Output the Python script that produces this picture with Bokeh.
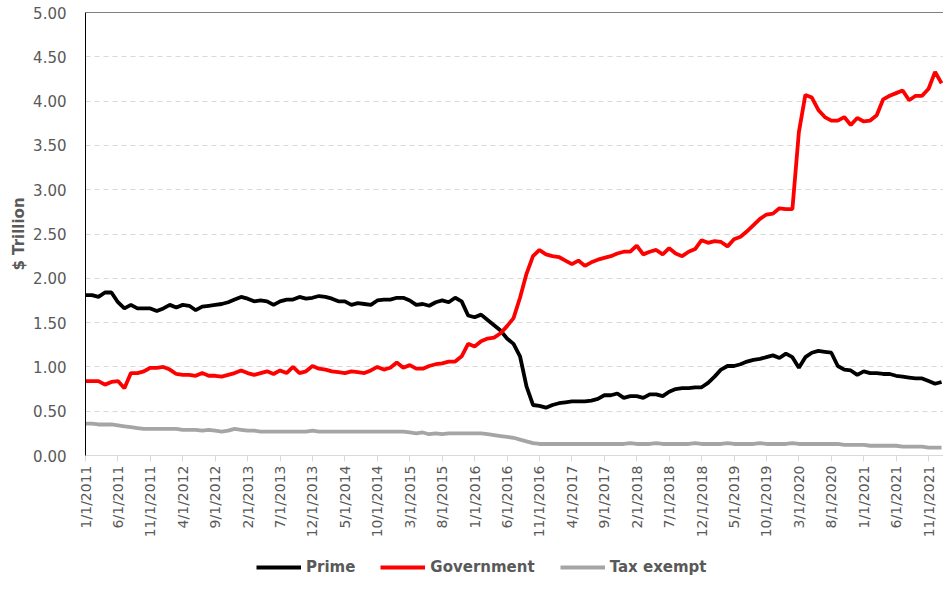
from bokeh.plotting import figure
from bokeh.models import (Range1d, FixedTicker, NumeralTickFormatter, Span,
                          Legend, LegendItem, ColumnDataSource)
from bokeh.layouts import column
from bokeh.embed import file_html
from bokeh.resources import INLINE
import math

# ---- data (monthly, 1/1/2011 .. 1/1/2022), $ trillion ----
dates = [f"{(i % 12) + 1}/1/{2011 + i // 12}" for i in range(133)]

prime = [1.81, 1.81, 1.79, 1.84, 1.84, 1.73, 1.66, 1.70, 1.66, 1.66,
         1.66, 1.63, 1.66, 1.70, 1.67, 1.70, 1.69, 1.64, 1.68, 1.69,
         1.70, 1.71, 1.73, 1.76, 1.79, 1.77, 1.74, 1.75, 1.74, 1.70,
         1.74, 1.76, 1.76, 1.79, 1.77, 1.78, 1.80, 1.79, 1.77, 1.74,
         1.74, 1.70, 1.72, 1.71, 1.70, 1.75, 1.76, 1.76, 1.78, 1.78,
         1.75, 1.70, 1.71, 1.69, 1.73, 1.75, 1.73, 1.78, 1.74, 1.58,
         1.56, 1.59, 1.53, 1.47, 1.41, 1.32, 1.26, 1.12, 0.78, 0.57,
         0.56, 0.54, 0.57, 0.59, 0.60, 0.61, 0.61, 0.61, 0.62, 0.64,
         0.68, 0.68, 0.70, 0.65, 0.67, 0.67, 0.65, 0.69, 0.69, 0.67,
         0.72, 0.75, 0.76, 0.76, 0.77, 0.77, 0.82, 0.89, 0.97, 1.01,
         1.01, 1.03, 1.06, 1.08, 1.09, 1.11, 1.13, 1.10, 1.15, 1.11,
         0.99, 1.11, 1.16, 1.18, 1.17, 1.16, 1.01, 0.97, 0.96, 0.91,
         0.95, 0.93, 0.93, 0.92, 0.92, 0.90, 0.89, 0.88, 0.87, 0.87,
         0.84, 0.81, 0.83]

government = [0.84, 0.84, 0.84, 0.80, 0.83, 0.84, 0.76, 0.93, 0.93, 0.95,
              0.99, 0.99, 1.00, 0.97, 0.92, 0.91, 0.91, 0.90, 0.93, 0.90,
              0.90, 0.89, 0.91, 0.93, 0.96, 0.93, 0.91, 0.93, 0.95, 0.92,
              0.96, 0.93, 1.00, 0.93, 0.95, 1.01, 0.98, 0.97, 0.95, 0.94,
              0.93, 0.95, 0.94, 0.93, 0.96, 1.00, 0.97, 0.99, 1.05, 0.99,
              1.02, 0.98, 0.98, 1.01, 1.03, 1.04, 1.06, 1.06, 1.12, 1.26,
              1.23, 1.29, 1.32, 1.33, 1.38, 1.46, 1.55, 1.78, 2.05, 2.25,
              2.32, 2.27, 2.25, 2.24, 2.20, 2.16, 2.20, 2.14, 2.18, 2.21,
              2.23, 2.25, 2.28, 2.30, 2.30, 2.37, 2.27, 2.30, 2.32, 2.27,
              2.34, 2.28, 2.25, 2.30, 2.33, 2.43, 2.40, 2.42, 2.41, 2.36,
              2.44, 2.47, 2.53, 2.60, 2.67, 2.72, 2.73, 2.79, 2.78, 2.78,
              3.65, 4.07, 4.04, 3.90, 3.82, 3.78, 3.78, 3.82, 3.73, 3.81,
              3.77, 3.78, 3.84, 4.02, 4.06, 4.09, 4.12, 4.01, 4.06, 4.06,
              4.14, 4.33, 4.20]

tax_exempt = [0.36, 0.36, 0.35, 0.35, 0.35, 0.34, 0.33, 0.32, 0.31, 0.30,
              0.30, 0.30, 0.30, 0.30, 0.30, 0.29, 0.29, 0.29, 0.28, 0.29,
              0.28, 0.27, 0.28, 0.30, 0.29, 0.28, 0.28, 0.27, 0.27, 0.27,
              0.27, 0.27, 0.27, 0.27, 0.27, 0.28, 0.27, 0.27, 0.27, 0.27,
              0.27, 0.27, 0.27, 0.27, 0.27, 0.27, 0.27, 0.27, 0.27, 0.27,
              0.26, 0.25, 0.26, 0.24, 0.25, 0.24, 0.25, 0.25, 0.25, 0.25,
              0.25, 0.25, 0.24, 0.23, 0.22, 0.21, 0.20, 0.18, 0.16, 0.14,
              0.13, 0.13, 0.13, 0.13, 0.13, 0.13, 0.13, 0.13, 0.13, 0.13,
              0.13, 0.13, 0.13, 0.13, 0.14, 0.13, 0.13, 0.13, 0.14, 0.13,
              0.13, 0.13, 0.13, 0.13, 0.14, 0.13, 0.13, 0.13, 0.13, 0.14,
              0.13, 0.13, 0.13, 0.13, 0.14, 0.13, 0.13, 0.13, 0.13, 0.14,
              0.13, 0.13, 0.13, 0.13, 0.13, 0.13, 0.13, 0.12, 0.12, 0.12,
              0.12, 0.11, 0.11, 0.11, 0.11, 0.11, 0.10, 0.10, 0.10, 0.10,
              0.09, 0.09, 0.09]

series_names = ["Prime", "Government", "Tax exempt"]
series_colors = ["#000000", "#ff0000", "#a5a5a5"]

tick_step = 5
y_ticks = [0.0, 0.5, 1.0, 1.5, 2.0, 2.5, 3.0, 3.5, 4.0, 4.5, 5.0]

x = list(range(len(dates)))
src = ColumnDataSource(dict(x=x, prime=prime, gov=government, tax=tax_exempt))

TEXT = "#595959"
FONT = "DejaVu Sans"
LW = 3.8

p = figure(width=943, height=545, output_backend="svg", toolbar_location=None,
           x_range=Range1d(0, 132.3), y_range=Range1d(0, 5.0))
p.min_border_left = 85
p.min_border_right = 0
p.min_border_top = 12
p.min_border_bottom = 90
p.outline_line_color = None
p.background_fill_color = "white"
p.border_fill_color = "white"

r1 = p.line("x", "prime", source=src, line_color=series_colors[0], line_width=LW)
r2 = p.line("x", "gov", source=src, line_color=series_colors[1], line_width=LW)
r3 = p.line("x", "tax", source=src, line_color=series_colors[2], line_width=LW)

# x axis
xt = list(range(0, len(dates), tick_step))
p.xaxis.ticker = FixedTicker(ticks=xt)
p.xaxis.major_label_overrides = {i: dates[i] for i in xt}
p.xaxis.major_label_orientation = math.pi / 2
p.xaxis.major_label_text_font = FONT
p.xaxis.major_label_text_font_size = "14px"
p.xaxis.major_label_text_color = TEXT
p.xaxis.axis_line_color = "#d9d9d9"
p.xaxis.major_tick_line_color = "#d9d9d9"
p.xaxis.major_tick_out = 6
p.xaxis.major_tick_in = 0
p.xaxis.minor_tick_line_color = None
p.xaxis.major_label_standoff = 4
p.xgrid.grid_line_color = None

# y axis
p.yaxis.ticker = FixedTicker(ticks=y_ticks)
p.yaxis.formatter = NumeralTickFormatter(format="0.00")
p.yaxis.major_label_text_font = FONT
p.yaxis.major_label_text_font_size = "15px"
p.yaxis.major_label_text_color = TEXT
p.yaxis.axis_line_color = "#000000"
p.yaxis.major_tick_line_color = None
p.yaxis.minor_tick_line_color = None
p.yaxis.major_tick_out = 0
p.yaxis.major_tick_in = 0
p.yaxis.major_label_standoff = 19
p.yaxis.axis_label = "$ Trillion"
p.yaxis.axis_label_text_font = FONT
p.yaxis.axis_label_text_font_style = "bold"
p.yaxis.axis_label_text_font_size = "15px"
p.yaxis.axis_label_text_color = TEXT
p.yaxis.axis_label_standoff = 2
p.ygrid.grid_line_color = "#d9d9d9"
p.ygrid.grid_line_dash = "5 4"
p.ygrid.grid_line_width = 1

p.add_layout(Span(location=5.0, dimension="width", line_color="#000000", line_width=1))

# ---- legend strip below the chart ----
lf = figure(width=943, height=36, output_backend="svg", toolbar_location=None,
            x_range=Range1d(0, 1), y_range=Range1d(0, 1))
lf.min_border = 0
lf.axis.visible = False
lf.grid.visible = False
lf.outline_line_color = None
lf.background_fill_color = "white"
lf.border_fill_color = "white"
items = []
for name, col in zip(series_names, series_colors):
    # swatch-only renderers, placed outside the strip's visible range
    dummy = lf.line(x=[5, 6], y=[5, 6], line_color=col, line_width=LW)
    items.append(LegendItem(label=name, renderers=[dummy]))
legend = Legend(items=items, orientation="horizontal", location=(171, 5))
legend.label_text_font = FONT
legend.label_text_font_style = "bold"
legend.label_text_font_size = "15px"
legend.label_text_color = TEXT
legend.glyph_width = 45
legend.glyph_height = 18
legend.label_standoff = 5
legend.spacing = 25
legend.padding = 0
legend.margin = 0
legend.border_line_color = None
legend.background_fill_alpha = 0
lf.add_layout(legend, "center")

layout = column(p, lf, spacing=0)
open("out.html", "w").write(file_html(layout, INLINE))
